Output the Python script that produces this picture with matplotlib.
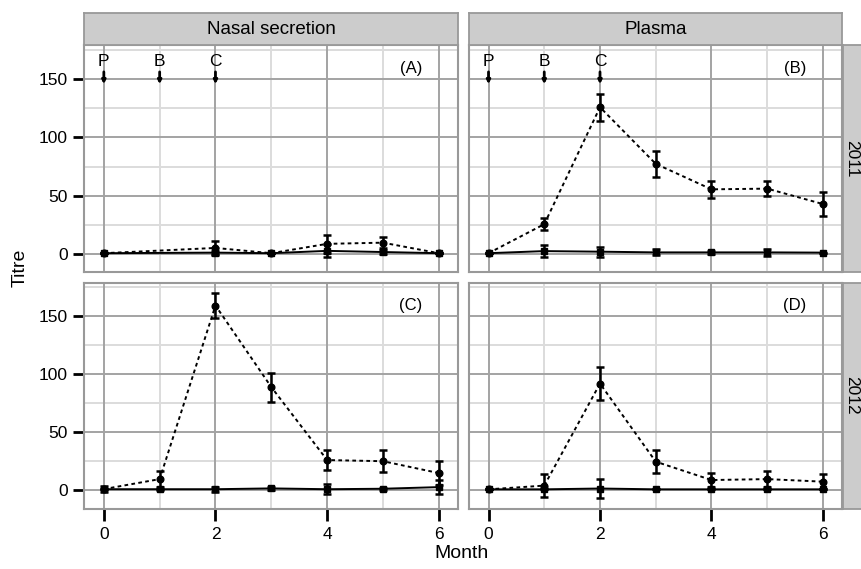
import numpy as np
import matplotlib
matplotlib.use("Agg")
import matplotlib.pyplot as plt

plt.rcParams['font.family'] = ['Liberation Sans', 'DejaVu Sans']

months = [0, 1, 2, 3, 4, 5, 6]
nan = np.nan

# Panel A: Nasal secretion, 2011
a_dash = [1, nan, 5.5, 1, 9, 10, 1]
a_dash_err = [0, nan, 6, 0, 7.5, 4.5, 0]
a_solid = [1, nan, 1.5, 1, 3, 2, 1]
a_solid_err = [0, nan, 1.5, 0, 5.5, 1.5, 0]

# Panel B: Plasma, 2011
b_dash = [1, 25.8, 125.8, 77.4, 55.6, 56.2, 43]
b_dash_err = [0, 5, 11.5, 11, 7.2, 6.5, 10.5]
b_solid = [1, 2.8, 2.3, 1.7, 1.7, 1.7, 1.5]
b_solid_err = [0, 5, 4.3, 2.5, 1, 2.8, 0]

# Panel C: Nasal secretion, 2012
c_dash = [1.2, 9.8, 159.2, 89, 26.2, 25.2, 15]
c_dash_err = [0, 7, 11, 12.5, 8.5, 9.3, 10]
c_solid = [1.1, 1.1, 1.1, 1.8, 1.1, 1.5, 2.9]
c_solid_err = [2.5, 0.5, 2, 1.5, 4.3, 1, 6]

# Panel D: Plasma, 2012
d_dash = [1, 4.2, 92, 24.8, 9, 9.8, 7.6]
d_dash_err = [0, 9.9, 14, 9.8, 5.8, 6.8, 6.5]
d_solid = [1, 1, 1.7, 1, 1, 1, 1]
d_solid_err = [0, 0, 8, 0, 0, 0, 0]

col_labels = ["Nasal secretion", "Plasma"]
row_labels = ["2011", "2012"]
panel_tags = ["(A)", "(B)", "(C)", "(D)"]
events = ["P", "B", "C"]
event_months = [0, 1, 2]
event_text_y = 165
arrow_top, arrow_bottom = 156, 145.5
tag_pos = (5.5, 159)

yticks_major = [0, 50, 100, 150]
yticks_minor = [25, 75, 125, 175]
xticks_major = [0, 2, 4, 6]
xticks_minor = [1, 3, 5]

W, H = 862, 569
fig = plt.figure(figsize=(W / 100, H / 100), dpi=100)


def rect(x0, y0, x1, y1):
    return [x0 / W, 1 - y1 / H, (x1 - x0) / W, (y1 - y0) / H]


col_x = [(84.3, 458.3), (469, 842.5)]
row_y = [(45, 272.5), (282.5, 508.5)]

data = [
    [(a_dash, a_dash_err, a_solid, a_solid_err), (b_dash, b_dash_err, b_solid, b_solid_err)],
    [(c_dash, c_dash_err, c_solid, c_solid_err), (d_dash, d_dash_err, d_solid, d_solid_err)],
]

major_c = '#a3a3a3'
minor_c = '#dcdcdc'
border_c = '#999999'
strip_c = '#cccccc'


def draw_series(ax, mean, err, ls, marker, ms):
    m = np.array(months, float)
    y = np.array(mean, float)
    e = np.array(err, float)
    ok = ~np.isnan(y)
    ax.plot(m[ok], y[ok], color='black', lw=1.4, ls=ls, zorder=3)
    ax.errorbar(m[ok], y[ok], yerr=e[ok], fmt='none', ecolor='black',
                elinewidth=1.8, capsize=3, capthick=1.8, zorder=4)
    ax.plot(m[ok], y[ok], ls='none', marker=marker, ms=ms, color='black', zorder=5)


k = 0
for r in range(2):
    for c in range(2):
        x0, x1 = col_x[c]
        y0, y1 = row_y[r]
        ax = fig.add_axes(rect(x0, y0, x1, y1))
        ax.set_xlim(-0.35, 6.35)
        ax.set_ylim(-15.5, 179)
        ax.set_facecolor('white')
        for v in yticks_minor:
            ax.axhline(v, color=minor_c, lw=1.4, zorder=0)
        for v in xticks_minor:
            ax.axvline(v, color=minor_c, lw=1.4, zorder=0)
        for v in yticks_major:
            ax.axhline(v, color=major_c, lw=1.4, zorder=1)
        for v in xticks_major:
            ax.axvline(v, color=major_c, lw=1.4, zorder=1)
        for s in ax.spines.values():
            s.set_color(border_c)
            s.set_linewidth(1.5)
        ax.set_yticks(yticks_major)
        ax.set_xticks(xticks_major)
        ax.tick_params(axis='y', length=8, width=2, color='black', pad=4, labelsize=12.5)
        ax.tick_params(axis='x', length=8.5, width=2, color='black', pad=5, labelsize=12.5)
        if c == 1:
            ax.tick_params(axis='y', left=False, labelleft=False)
        if r == 0:
            ax.tick_params(axis='x', bottom=False, labelbottom=False)

        dm, de, sm, se = data[r][c]
        draw_series(ax, dm, de, (0, (1.9, 1.7)), 'o', 4.8)
        draw_series(ax, sm, se, '-', 's', 4.2)

        ax.text(tag_pos[0], tag_pos[1], panel_tags[k], ha='center', va='center', fontsize=12)
        if r == 0:
            for lab, mo in zip(events, event_months):
                ax.text(mo, event_text_y, lab, ha='center', va='center', fontsize=12.5)
                ax.annotate('', xy=(mo, arrow_bottom), xytext=(mo, arrow_top),
                            arrowprops=dict(arrowstyle='-|>', lw=2.0, color='black',
                                            mutation_scale=5, shrinkA=0, shrinkB=0))
        k += 1

# column strips
for c in range(2):
    x0, x1 = col_x[c]
    sax = fig.add_axes(rect(x0, 13, x1, 45))
    sax.set_facecolor(strip_c)
    sax.set_xticks([])
    sax.set_yticks([])
    for s in sax.spines.values():
        s.set_color(border_c)
        s.set_linewidth(1.3)
    sax.text(0.5, 0.5, col_labels[c], ha='center', va='center', fontsize=13.5,
             transform=sax.transAxes)

# row strips
for r in range(2):
    y0, y1 = row_y[r]
    sax = fig.add_axes(rect(843.5, y0, 875, y1))
    sax.set_facecolor(strip_c)
    sax.set_xticks([])
    sax.set_yticks([])
    for s in sax.spines.values():
        s.set_color(border_c)
        s.set_linewidth(1.3)
    fig.text(851.5 / W, 1 - (y0 + y1) / 2 / H, row_labels[r], ha='center', va='center',
             fontsize=12.5, rotation=-90)

fig.text(20 / W, 1 - 268 / H, 'Titre', rotation=90, ha='center', va='center', fontsize=14)
fig.text(462 / W, 1 - 553 / H, 'Month', ha='center', va='center', fontsize=14)

fig.savefig('out.png', dpi=100)
